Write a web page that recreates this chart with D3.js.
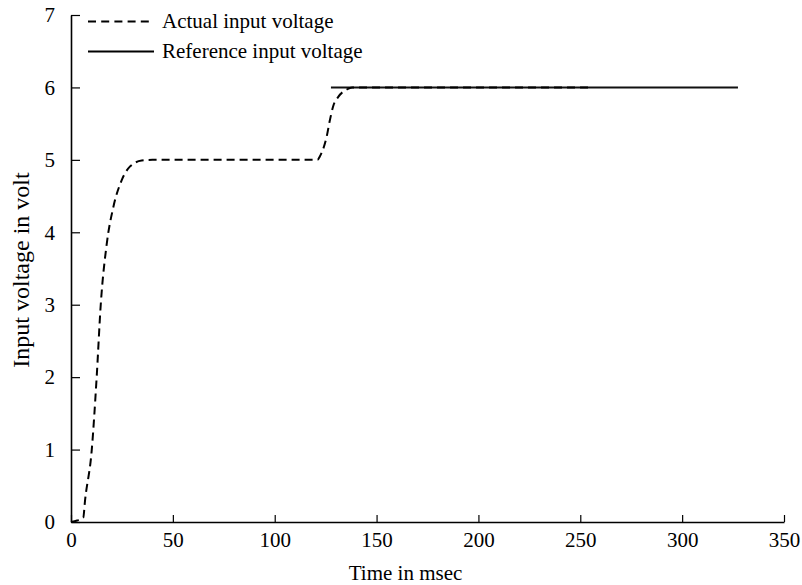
<!DOCTYPE html>
<html>
<head>
<meta charset="utf-8">
<script src="https://cdn.jsdelivr.net/npm/d3@7"></script>
<style>
  html, body { margin: 0; padding: 0; background: #fff; }
  svg { display: block; }
  text { font-family: "Liberation Serif", "Times New Roman", serif; fill: #000; }
</style>
</head>
<body>
<svg id="chart" width="802" height="585"></svg>
<script>
// ---- data ----
const actualTime    = [0, 3, 6, 6.9, 10.2, 12.6, 14.6, 17.5, 20.8, 24.9, 29, 34.7, 40, 121, 122.2, 125.5, 127.1, 128.7, 131.2, 135.3, 138, 255];
const actualVoltage = [0, 0.02, 0.06, 0.3, 1.0, 2.0, 3.0, 3.83, 4.35, 4.72, 4.91, 4.99, 5.0, 5.0, 5.05, 5.32, 5.55, 5.74, 5.87, 5.97, 6.0, 6.0];
const referenceTime    = [127.6, 327.4];
const referenceVoltage = [6, 6];
const xTicks = [0, 50, 100, 150, 200, 250, 300, 350];
const yTicks = [0, 1, 2, 3, 4, 5, 6, 7];
const seriesNames = ["Actual input voltage", "Reference input voltage"];

// ---- layout ----
const svg = d3.select("#chart");
const x = d3.scaleLinear().domain([0, 350]).range([71, 784]);
const y = d3.scaleLinear().domain([0, 7]).range([522, 15]);
const fs = "21px";

// axes
const xAxis = d3.axisBottom(x).tickValues(xTicks).tickFormat(d3.format("d")).tickSizeInner(-7).tickSizeOuter(0).tickPadding(10);
const yAxis = d3.axisLeft(y).tickValues(yTicks).tickFormat(d3.format("d")).tickSizeInner(-9).tickSizeOuter(0).tickPadding(16);

const gx = svg.append("g").attr("transform", `translate(0,${y(0)})`).call(xAxis);
const gy = svg.append("g").attr("transform", `translate(${x(0)},0)`).call(yAxis);
[gx, gy].forEach(g => {
  g.select(".domain").attr("stroke", "#000").attr("stroke-width", 1.6);
  g.selectAll(".tick line").attr("stroke", "#000").attr("stroke-width", 1.2);
  g.selectAll(".tick text").style("font-family", '"Liberation Serif", "Times New Roman", serif').style("font-size", fs).attr("fill", "#000");
});

// axis titles
svg.append("text")
  .attr("x", 405.5).attr("y", 580)
  .attr("text-anchor", "middle").style("font-size", fs)
  .text("Time in msec");
svg.append("text")
  .attr("transform", `translate(29,270) rotate(-90)`)
  .attr("text-anchor", "middle").style("font-size", "24px")
  .text("Input voltage in volt");

// lines
const line = d3.line().x(d => x(d[0])).y(d => y(d[1])).curve(d3.curveMonotoneX);
const refData = referenceTime.map((t, i) => [t, referenceVoltage[i]]);
const actData = actualTime.map((t, i) => [t, actualVoltage[i]]);

svg.append("path").datum(refData).attr("d", line)
  .attr("fill", "none").attr("stroke", "#111").attr("stroke-width", 2);
svg.append("path").datum(actData).attr("d", line)
  .attr("fill", "none").attr("stroke", "#000").attr("stroke-width", 2)
  .attr("stroke-dasharray", "8,5");

// legend
const legend = svg.append("g");
const legendItems = [
  { name: seriesNames[0], dash: "8,5.2", ly: 21.5 },
  { name: seriesNames[1], dash: null, ly: 51.5 }
];
legendItems.forEach(it => {
  legend.append("line").attr("x1", 88).attr("x2", 154).attr("y1", it.ly).attr("y2", it.ly)
    .attr("stroke", "#000").attr("stroke-width", 2)
    .attr("stroke-dasharray", it.dash);
  legend.append("text").attr("x", 162).attr("y", it.ly + 6)
    .style("font-size", fs).text(it.name);
});
</script>
</body>
</html>
